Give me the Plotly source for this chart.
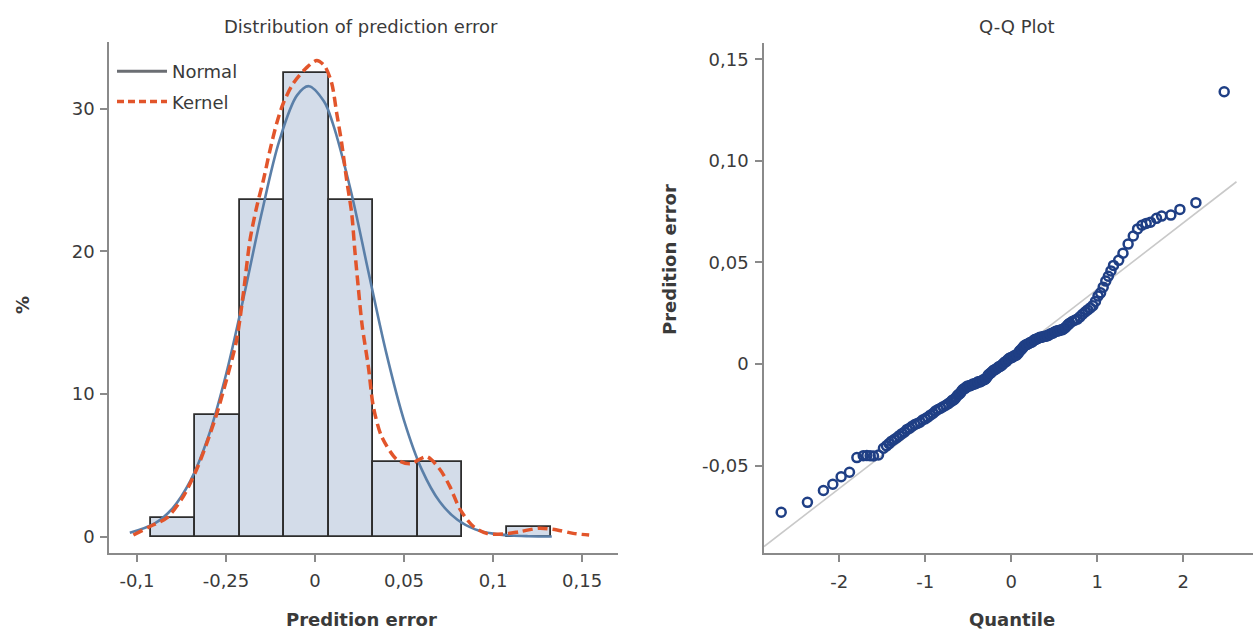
import plotly.graph_objects as go

# ---------------- data ----------------
# Histogram of prediction error (percent per bin, bin width 0.025)
bin_centers = [-0.0797, -0.0547, -0.0297, -0.0047, 0.0203, 0.0453, 0.0703, 0.0953, 0.1203]
bin_percent = [1.3, 8.5, 23.6, 32.5, 23.6, 5.2, 5.2, None, 0.7]
bin_width = 0.025

# Normal density curve (percent scale)
normal_x = [-0.104, -0.09, -0.08, -0.07, -0.06, -0.05, -0.04, -0.03, -0.02, -0.01, -0.0035,
            0.005, 0.01, 0.02, 0.03, 0.04, 0.05, 0.06, 0.07, 0.08, 0.09, 0.10, 0.11, 0.12, 0.133]
normal_y = [0.26, 0.92, 1.98, 3.9, 6.97, 11.35, 16.82, 22.66, 27.78, 30.97, 31.6,
            30.54, 28.99, 24.33, 18.58, 12.9, 8.15, 4.69, 2.45, 1.17, 0.5, 0.2, 0.07, 0.02, 0.0]

# Kernel density curve (percent scale)
kernel_x = [-0.102, -0.0927, -0.0833, -0.074, -0.0665, -0.0609, -0.0552, -0.0497, -0.044, -0.0403,
            -0.0365, -0.0328, -0.029, -0.0253, -0.0215, -0.0178, -0.0122, -0.0047, 0.001, 0.0055,
            0.0094, 0.0122, 0.015, 0.0178, 0.0206, 0.0225, 0.0243, 0.0265, 0.030, 0.0328, 0.0375,
            0.046, 0.0534, 0.0627, 0.0702, 0.0758, 0.0815, 0.089, 0.0964, 0.1056, 0.115, 0.126,
            0.136, 0.145, 0.154]
kernel_y = [0.1, 0.7, 1.3, 2.8, 4.7, 6.5, 8.6, 11.0, 13.8, 17.0,
            20.8, 23.1, 25.0, 27.1, 29.0, 30.4, 31.8, 32.9, 33.4, 33.0,
            31.8, 29.7, 27.6, 25.0, 22.7, 19.9, 17.5, 14.8, 11.9, 9.1, 7.0,
            5.4, 5.1, 5.6, 4.7, 3.5, 1.9, 0.7, 0.22, 0.17, 0.34, 0.58,
            0.46, 0.22, 0.1]

x_tick_vals = [-0.1, -0.05, 0, 0.05, 0.1, 0.15]
x_tick_text = ["-0,1", "-0,25", "0", "0,05", "0,1", "0,15"]
y_tick_vals = [0, 10, 20, 30]

# Q-Q plot: theoretical quantile vs prediction error
qq_x = [-2.674, -2.369, -2.183, -2.074, -1.977, -1.880, -1.794, -1.72, -1.678, -1.64, -1.601, -1.543, -1.485,
        -1.45, -1.42, -1.39, -1.36, -1.33, -1.30, -1.27, -1.24, -1.21, -1.18, -1.15, -1.12, -1.09, -1.06,
        -1.03, -1.00, -0.97, -0.94, -0.91, -0.88, -0.85, -0.82, -0.79, -0.76, -0.73, -0.70, -0.67, -0.64,
        -0.61, -0.58, -0.55, -0.52, -0.49, -0.46, -0.43, -0.40, -0.37, -0.34, -0.31, -0.28, -0.25, -0.22,
        -0.19, -0.16, -0.13, -0.10, -0.07, -0.04, -0.01, 0.02, 0.05, 0.08, 0.11, 0.14, 0.17, 0.20, 0.23,
        0.26, 0.29, 0.32, 0.35, 0.38, 0.41, 0.44, 0.47, 0.50, 0.53, 0.56, 0.59, 0.62, 0.65, 0.68, 0.71,
        0.74, 0.77, 0.80, 0.83, 0.86, 0.89, 0.92, 0.95, 0.98, 1.01, 1.04, 1.07, 1.10, 1.13, 1.16, 1.19,
        1.25, 1.30, 1.36, 1.42, 1.47, 1.52, 1.57, 1.62, 1.69, 1.75, 1.857, 1.962, 2.148, 2.477,
        -0.685, -0.655, -0.625, -0.595, -0.565, -0.535, -0.505, -0.475, -0.445, -0.415, -0.385, -0.355,
        -0.325, -0.295, -0.265, -0.235, -0.205, -0.175, -0.145, -0.115, -0.085, -0.055, -0.025, 0.005,
        0.035, 0.065, 0.095, 0.125, 0.155, 0.185, 0.215, 0.245, 0.275, 0.305, 0.335, 0.365, 0.395, 0.425,
        0.455, 0.485, 0.515, 0.545, 0.575, 0.605, 0.635, 0.665]
qq_y = [-0.0730, -0.0681, -0.0623, -0.0592, -0.0555, -0.0533, -0.0461, -0.0452, -0.0451, -0.0452, -0.0453,
        -0.0448, -0.0415,
        -0.0403, -0.0392, -0.0380, -0.0372, -0.0363, -0.0353, -0.0343, -0.0335, -0.0322, -0.0316, -0.0306,
        -0.0298, -0.0293, -0.0287, -0.0276, -0.0270, -0.0262, -0.0252, -0.0244, -0.0232, -0.0224, -0.0218,
        -0.0210, -0.0203, -0.0195, -0.0186, -0.0177, -0.0164, -0.0150, -0.0136, -0.0122, -0.0113, -0.0108,
        -0.0103, -0.0098, -0.0093, -0.0088, -0.0082, -0.0077, -0.0064, -0.0048, -0.0037, -0.0028, -0.0020,
        -0.0012, -0.0002, 0.0010, 0.0020, 0.0030, 0.0035, 0.0042, 0.0052, 0.0068, 0.0083, 0.0094, 0.0100,
        0.0106, 0.0115, 0.0122, 0.0128, 0.0132, 0.0135, 0.0138, 0.0143, 0.0150, 0.0156, 0.0162, 0.0165,
        0.0168, 0.0176, 0.0188, 0.0200, 0.0209, 0.0215, 0.0221, 0.0232, 0.0245, 0.0256, 0.0266, 0.0276,
        0.0287, 0.0308, 0.0334, 0.0350, 0.0378, 0.0408, 0.0432, 0.0458, 0.0485,
        0.0510, 0.0545, 0.0590, 0.0630, 0.0665, 0.0683, 0.0692, 0.0698, 0.0717, 0.0728, 0.0733, 0.0761,
        0.0794, 0.1340,
        -0.0179, -0.0172, -0.0155, -0.0145, -0.0127, -0.0120, -0.0108, -0.0107, -0.0099, -0.0097, -0.0088,
        -0.0087, -0.0078, -0.0072, -0.0054, -0.0044, -0.0031, -0.0025, -0.0014, -0.0009, 0.0005, 0.0013,
        0.0027, 0.0031, 0.0040, 0.0045, 0.0062, 0.0074, 0.0090, 0.0096, 0.0104, 0.0109, 0.0120, 0.0124,
        0.0131, 0.0133, 0.0137, 0.0139, 0.0148, 0.0152, 0.0160, 0.0163, 0.0167, 0.0171, 0.0181, 0.0195]

# Reference line of the Q-Q plot (end points)
ref_x = [-2.874, 2.62]
ref_y = [-0.0899, 0.0897]

qq_x_ticks = [-2, -1, 0, 1, 2]
qq_x_text = ["-2", "-1", "0", "1", "2"]
qq_y_ticks = [-0.05, 0, 0.05, 0.10, 0.15]
qq_y_text = ["-0,05", "0", "0,05", "0,10", "0,15"]

# ---------------- figure ----------------
W, H = 1253, 630
FONT = "DejaVu Sans"
TXT = "#3a3a3a"
AX = "#8a8a8a"


def px(v):
    return v / W


def py(v):
    return 1 - v / H


fig = go.Figure()

fig.add_trace(go.Bar(
    x=bin_centers, y=bin_percent, width=bin_width,
    marker=dict(color="#d3dce9", line=dict(color="#2d2d2d", width=1.8)),
    showlegend=False, xaxis="x", yaxis="y"))

fig.add_trace(go.Scatter(
    x=normal_x, y=normal_y, mode="lines", line=dict(color="#5a7fa8", width=2.6, shape="spline"),
    showlegend=False, xaxis="x", yaxis="y"))

fig.add_trace(go.Scatter(
    x=kernel_x, y=kernel_y, mode="lines",
    line=dict(color="#e2552b", width=3.5, dash="10px,5px", shape="spline", smoothing=0.8),
    showlegend=False, xaxis="x", yaxis="y"))

# legend entries
fig.add_trace(go.Scatter(x=[None], y=[None], mode="lines", name="Normal",
                         line=dict(color="#6b6e73", width=3), legendgroup="a",
                         xaxis="x", yaxis="y"))
fig.add_trace(go.Scatter(x=[None], y=[None], mode="lines", name="Kernel",
                         line=dict(color="#e2552b", width=3.5, dash="7px,4px"), legendgroup="b",
                         xaxis="x", yaxis="y"))

# Q-Q
fig.add_trace(go.Scatter(
    x=ref_x, y=ref_y, mode="lines", line=dict(color="#c9c9c9", width=1.6),
    showlegend=False, xaxis="x2", yaxis="y2"))
fig.add_trace(go.Scatter(
    x=qq_x, y=qq_y, mode="markers",
    marker=dict(symbol="circle-open", size=9, color="#1f3f85", line=dict(width=2.5, color="#1f3f85")),
    showlegend=False, xaxis="x2", yaxis="y2"))

axis_common = dict(
    showgrid=False, zeroline=False, showline=True, linecolor=AX, linewidth=1.5,
    ticks="outside", ticklen=7, tickwidth=1.5, tickcolor=AX,
    tickfont=dict(family=FONT, size=18, color=TXT), mirror=False,
)

fig.update_layout(
    width=W, height=H, margin=dict(l=0, r=0, t=0, b=0),
    paper_bgcolor="white", plot_bgcolor="white",
    font=dict(family=FONT, size=18, color=TXT),
    bargap=0,
    xaxis=dict(axis_common, domain=[px(109), px(618)], range=[-0.1157, 0.1702],
               tickvals=x_tick_vals, ticktext=x_tick_text, anchor="y", ticklabelstandoff=4),
    yaxis=dict(axis_common, domain=[py(553), py(42)], range=[-1.158, 34.70],
               tickvals=y_tick_vals, anchor="x", ticklabelstandoff=2),
    xaxis2=dict(axis_common, domain=[px(764), 1.0], range=[-2.874, 2.812],
                tickvals=qq_x_ticks, ticktext=qq_x_text, anchor="y2", ticklabelstandoff=4),
    yaxis2=dict(axis_common, domain=[py(553.3), py(43)], range=[-0.0932, 0.158],
                tickvals=qq_y_ticks, ticktext=qq_y_text, anchor="x2", ticklabelstandoff=3),
    legend=dict(x=px(112), y=py(53), xanchor="left", yanchor="top",
                bgcolor="rgba(0,0,0,0)", font=dict(family=FONT, size=18, color=TXT),
                traceorder="grouped", tracegroupgap=4, itemwidth=50),
)

ann = [
    dict(x=px(361), y=py(27), text="Distribution of prediction error"),
    dict(x=px(1017), y=py(27), text="Q-Q Plot"),
    dict(x=px(361), y=py(619), text="<b>Predition error</b>"),
    dict(x=px(1012), y=py(619), text="<b>Quantile</b>"),
    dict(x=px(22), y=py(305), text="<b>%</b>", textangle=-90),
    dict(x=px(669), y=py(260), text="<b>Predition error</b>", textangle=-90),
]
for a in ann:
    fig.add_annotation(xref="paper", yref="paper", showarrow=False, xanchor="center", yanchor="middle",
                       font=dict(family=FONT, size=18, color=TXT), **a)

fig.write_html("out.html")
